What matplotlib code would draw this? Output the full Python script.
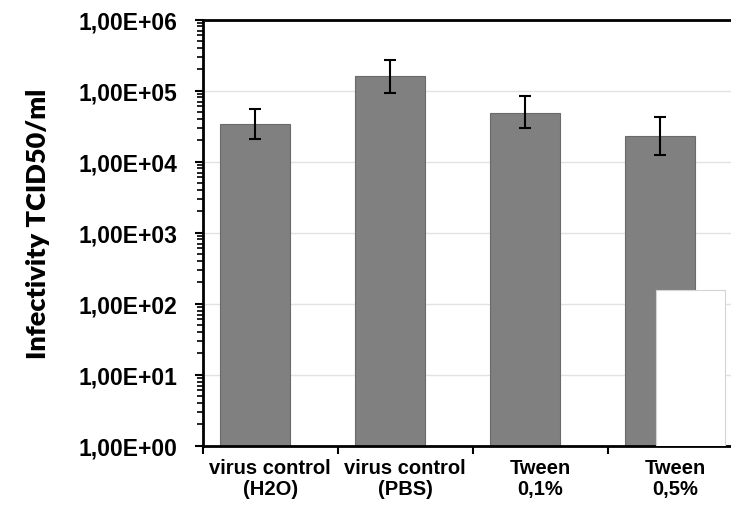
import matplotlib.pyplot as plt
import matplotlib.ticker as ticker
import numpy as np


categories = ["virus control\n(H2O)", "virus control\n(PBS)", "Tween\n0,1%", "Tween\n0,5%"]
titer = [34000, 160000, 49000, 23000]
titer_low = [20500, 92500, 29500, 12300]
titer_high = [55000, 273000, 83000, 43000]
# second series, only measured for the last sample
limit = [np.nan, np.nan, np.nan, 158]

plt.rcParams['font.family'] = ['Liberation Sans', 'DejaVu Sans']

fig = plt.figure(figsize=(7.31, 5.10), dpi=100)
ax = fig.add_axes([0.2773, 0.1241, 0.7386, 0.8357])

x = np.arange(len(categories))
width = 0.515
shift = 0.113

titer = np.array(titer, dtype=float)
yerr = [titer - np.array(titer_low), np.array(titer_high) - titer]

ax.bar(x - shift, titer, width, color='#808080', edgecolor='#6a6a6a', linewidth=0.8, zorder=2)
ax.errorbar(x - shift, titer, yerr=yerr, fmt='none', ecolor='black', elinewidth=1.5,
            capsize=4.5, capthick=1.5, zorder=3)
ax.bar(x + shift, limit, width, color='white', edgecolor='#d4d4d4', linewidth=0.8, zorder=4)

ax.set_yscale('log')
ax.set_ylim(1, 1e6)
ax.set_xlim(-0.5, 3.5)

ax.yaxis.set_major_locator(ticker.LogLocator(base=10, numticks=10))
ax.yaxis.set_minor_locator(ticker.LogLocator(base=10, subs=np.arange(2, 10), numticks=10))
ax.yaxis.set_minor_formatter(ticker.NullFormatter())
ax.yaxis.set_major_formatter(ticker.FuncFormatter(lambda v, p: "1,00E+%02d" % round(np.log10(v))))

ax.set_xticks(x)
ax.set_xticklabels(categories)
ax.set_xticks(np.arange(-0.5, 4.0, 1.0), minor=True)

ax.tick_params(axis='x', which='major', length=0, pad=9, labelsize=14.5)
ax.tick_params(axis='x', which='minor', length=6, width=1.5, direction='out')
ax.tick_params(axis='y', which='major', length=6, width=1.5, direction='out', pad=12, labelsize=16.5)
ax.tick_params(axis='y', which='minor', length=4, width=1.2, direction='out')
for lab in ax.get_xticklabels() + ax.get_yticklabels():
    lab.set_fontweight('bold')
for lab in ax.get_xticklabels():
    lab.set_linespacing(1.15)

ax.grid(axis='y', which='major', color='#e2e2e2', linewidth=1, zorder=0)
ax.set_axisbelow(True)

for side in ['left', 'bottom', 'top']:
    ax.spines[side].set_linewidth(2)
    ax.spines[side].set_color('black')
ax.spines['right'].set_visible(False)

fig.text(0.052, 0.561, "Infectivity TCID50/ml", rotation=90, ha='center', va='center',
         fontsize=19.5, fontweight='heavy', family=['Lato', 'DejaVu Sans'])

fig.savefig("out.png", dpi=100)
